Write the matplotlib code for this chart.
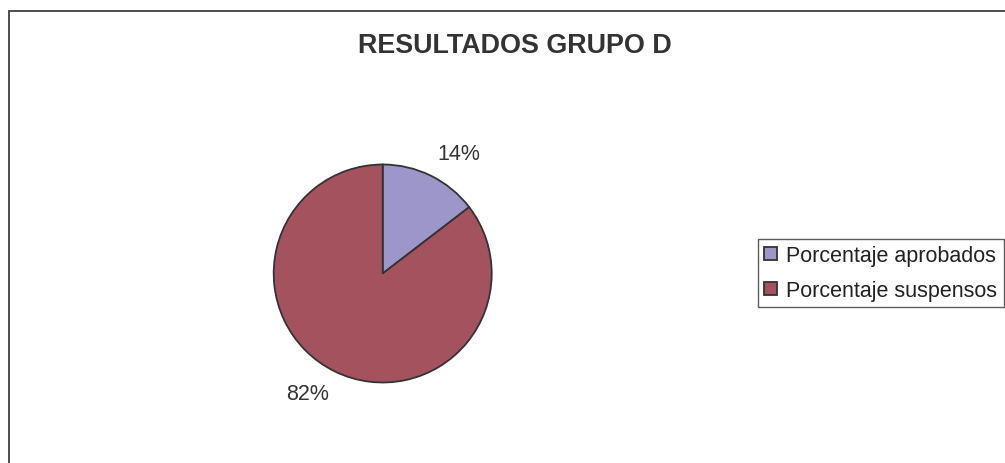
import numpy as np
import matplotlib
matplotlib.use("Agg")
import matplotlib.pyplot as plt
from matplotlib.patches import Rectangle

categories = ["Porcentaje aprobados", "Porcentaje suspensos"]
values = [14, 82]
colors = ["#9C96CA", "#A5525F"]
title = "RESULTADOS GRUPO D"

plt.rcParams["font.family"] = ["Liberation Sans", "DejaVu Sans"]

W, H, DPI = 1005, 464, 100
fig = plt.figure(figsize=(W / DPI, H / DPI), dpi=DPI)
fig.patch.set_facecolor("white")

# outer chart-area frame (left/top visible, right/bottom beyond image)
fig.patches.append(Rectangle((8.5 / W, -0.1), 1.2, (H - 11.5) / H + 0.1,
                             transform=fig.transFigure, fill=False,
                             edgecolor="#404040", linewidth=1.3))

# pie axes: center (382.7, 274.5) px, radius 109 px
cx, cy, R = 382.7, 274.5, 109.0
ax = fig.add_axes([(cx - R) / W, (H - cy - R) / H, 2 * R / W, 2 * R / H])

wedges, _ = ax.pie(values, colors=colors, startangle=90, counterclock=False,
                   radius=1.0, center=(0, 0), frame=False,
                   wedgeprops=dict(edgecolor="#333333", linewidth=1.3))
ax.set_xlim(-1, 1)
ax.set_ylim(-1, 1)
ax.set_aspect("auto")
ax.axis("off")

for w, v in zip(wedges, values):
    mid = np.deg2rad((w.theta1 + w.theta2) / 2 - 6.0)
    d = 1.30
    ax.text(d * np.cos(mid), d * np.sin(mid), f"{v}%", ha="center", va="center",
            fontsize=15.5, color="#333333", clip_on=False)

fig.text(515 / W, 1 - 53 / H, title, ha="center", va="baseline",
         fontsize=19.4, fontweight="bold", color="#333333")

leg = fig.legend(wedges, categories, loc="upper left",
                 bbox_to_anchor=(758 / W, 1 - 240 / H),
                 fontsize=15.5, frameon=True, fancybox=False,
                 handlelength=0.56, handleheight=0.56, handletextpad=0.45,
                 borderpad=0.3, labelspacing=0.62, borderaxespad=0.0,
                 labelcolor="#222222")
leg.get_frame().set_edgecolor("#333333")
leg.get_frame().set_linewidth(1.0)

fig.savefig("out.png", dpi=DPI, facecolor="white")
